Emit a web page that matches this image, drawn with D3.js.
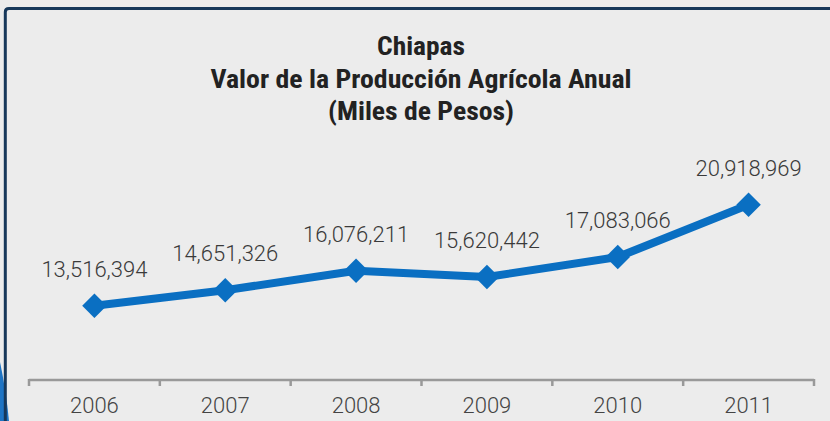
<!DOCTYPE html>
<html><head><meta charset="utf-8">
<script src="https://cdn.jsdelivr.net/npm/d3@7"></script>
<style>
html,body{margin:0;padding:0;background:#ececec;}
svg{display:block;}
</style></head>
<body>
<svg id="chart" width="830" height="421"></svg>
<script>
const years = ["2006","2007","2008","2009","2010","2011"];
const values = [13516394, 14651326, 16076211, 15620442, 17083066, 20918969];
const titleLines = ["Chiapas", "Valor de la Producción Agrícola Anual", "(Miles de Pesos)"];

const svg = d3.select("#chart");
const W = 830, H = 421;

svg.append("rect").attr("width", W).attr("height", H).attr("fill", "#ececec");

// decorative blue shape at bottom-left
svg.append("path").attr("d", "M0,362 Q6,390 9,421 L0,421 Z").attr("fill", "#1e74c4");

// frame
svg.append("path")
  .attr("d", "M5.3,421 L5.3,12 Q5.3,8.5 9,8.5 L830,8.5")
  .attr("fill", "none").attr("stroke", "#17385a").attr("stroke-width", 3);

// title
const tw = [88, 421, 186];
const tb = [55, 88, 120];
titleLines.forEach((t, i) => {
  svg.append("text")
    .attr("x", 421).attr("y", tb[i])
    .attr("text-anchor", "middle")
    .attr("font-family", "'Liberation Sans Narrow','Roboto Condensed','DejaVu Sans Condensed',sans-serif")
    .attr("font-weight", "bold").attr("font-size", 25)
    .attr("fill", "#222")
    .attr("textLength", tw[i]).attr("lengthAdjust", "spacingAndGlyphs")
    .text(t);
});

const x = d3.scaleBand().domain(years).range([29, 814]).padding(0);
const y = d3.scaleLinear().domain([0, 22000000]).range([490, 190]);

// axis
const gA = svg.append("g").attr("transform", "translate(0,380)");
gA.append("line").attr("x1", 29).attr("x2", 814).attr("y1", 0).attr("y2", 0)
  .attr("stroke", "#999").attr("stroke-width", 2.5);
const bounds = years.map(d => x(d)).concat([x(years[years.length-1]) + x.bandwidth()]);
gA.selectAll("line.tk").data(bounds).enter().append("line").attr("class","tk")
  .attr("x1", d => d).attr("x2", d => d).attr("y1", -1).attr("y2", 6)
  .attr("stroke", "#999").attr("stroke-width", 2.5);
gA.selectAll("text.yl").data(years).enter().append("text").attr("class","yl")
  .attr("x", d => x(d) + x.bandwidth()/2).attr("y", 33)
  .attr("text-anchor", "middle")
  .attr("font-family", "Roboto, 'Liberation Sans', sans-serif")
  .attr("font-weight", 300).attr("font-size", 22).attr("fill", "#444")
  .text(d => d);

const cx = d => x(d) + x.bandwidth()/2;
const data = years.map((yr, i) => ({yr, v: values[i]}));

svg.append("path").datum(data)
  .attr("d", d3.line().x(d => cx(d.yr)).y(d => y(d.v)))
  .attr("fill", "none").attr("stroke", "#0a6fc2").attr("stroke-width", 8)
  .attr("stroke-linejoin", "round");

svg.selectAll("path.mk").data(data).enter().append("path").attr("class","mk")
  .attr("d", d3.symbol(d3.symbolSquare, 300)())
  .attr("transform", d => `translate(${cx(d.yr)},${y(d.v)}) rotate(45)`)
  .attr("fill", "#0a6fc2");

const fmt = d3.format(",");
svg.selectAll("text.lbl").data(data).enter().append("text").attr("class","lbl")
  .attr("x", d => cx(d.yr)).attr("y", d => y(d.v) - 29)
  .attr("text-anchor", "middle")
  .attr("font-family", "Roboto, 'Liberation Sans', sans-serif")
  .attr("font-weight", 300).attr("font-size", 22).attr("fill", "#3a3a3a")
  .text(d => fmt(d.v));
</script>
</body></html>
